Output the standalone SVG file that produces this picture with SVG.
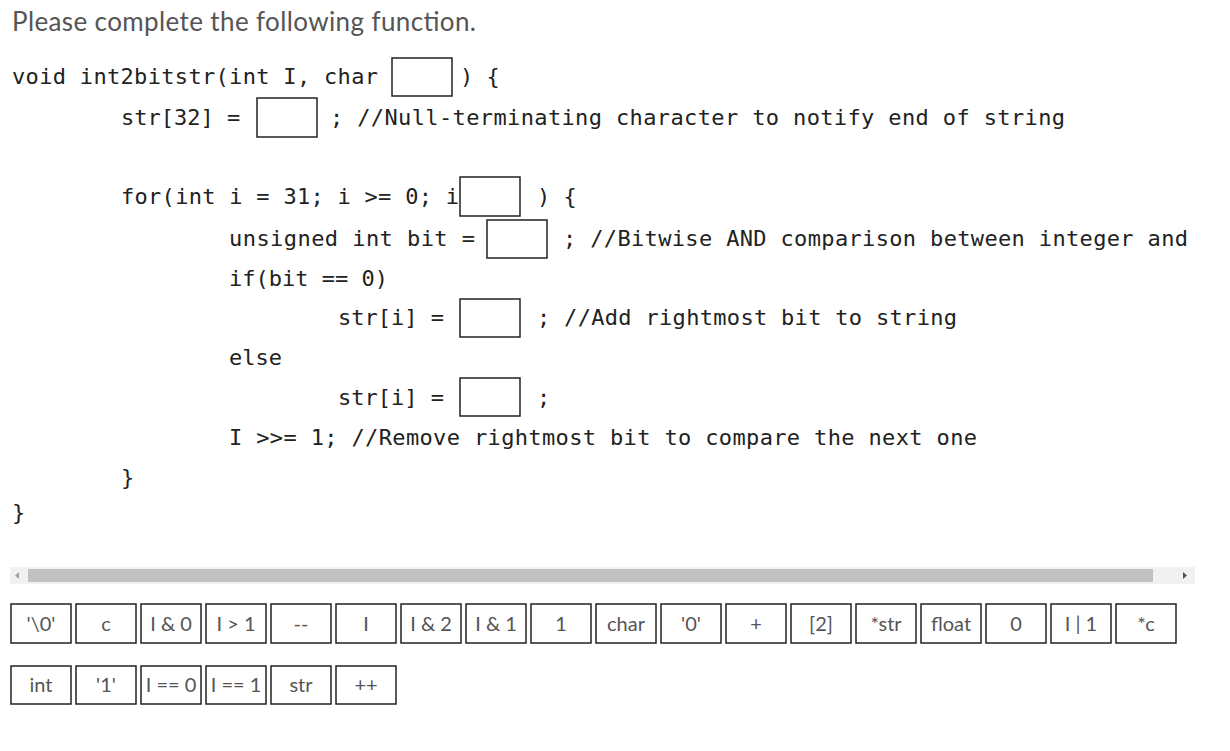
<svg xmlns="http://www.w3.org/2000/svg" width="1230" height="751" viewBox="0 0 1230 751">
<style>
.t{font-family:Lato,"Liberation Sans",sans-serif;font-size:26px;fill:#555}
.c{font-family:"DejaVu Sans Mono","Liberation Mono",monospace;font-size:22px;fill:#222;white-space:pre}
.b{fill:#fff;stroke:#222;stroke-width:1.5}
.tile rect{fill:#fff;stroke:#222;stroke-width:1.5}
.tile text{font-family:Lato,"Liberation Sans",sans-serif;font-size:20px;fill:#555;text-anchor:middle}
</style>
<rect width="1230" height="751" fill="#fff"/>
<text class="t" x="12" y="31" textLength="464">Please complete the following function.</text>
<g id="code">
<text class="c" x="12" y="84" textLength="366">void int2bitstr(int I, char</text>
<rect class="b" x="392" y="58" width="60" height="38"/>
<text class="c" x="460" y="84">) {</text>
<text class="c" x="121" y="125">str[32] =</text>
<rect class="b" x="257" y="98" width="60" height="39"/>
<text class="c" x="330" y="125" textLength="735">; //Null-terminating character to notify end of string</text>
<text class="c" x="121" y="204" textLength="338">for(int i = 31; i &gt;= 0; i</text>
<rect class="b" x="460" y="177" width="60" height="39"/>
<text class="c" x="537" y="204">) {</text>
<text class="c" x="229" y="246" textLength="246">unsigned int bit =</text>
<rect class="b" x="487" y="220" width="60" height="38"/>
<text class="c" x="563" y="246" textLength="625">; //Bitwise AND comparison between integer and</text>
<text class="c" x="229" y="286">if(bit == 0)</text>
<text class="c" x="338" y="325">str[i] =</text>
<rect class="b" x="460" y="299" width="60" height="38"/>
<text class="c" x="537" y="325" textLength="420">; //Add rightmost bit to string</text>
<text class="c" x="229" y="365">else</text>
<text class="c" x="338" y="405">str[i] =</text>
<rect class="b" x="460" y="378" width="60" height="38"/>
<text class="c" x="537" y="405">;</text>
<text class="c" x="229" y="445" textLength="748">I &gt;&gt;= 1; //Remove rightmost bit to compare the next one</text>
<text class="c" x="121" y="485">}</text>
<text class="c" x="12" y="520">}</text>
</g>
<g id="scrollbar">
<rect x="10" y="567" width="1185" height="17" fill="#f1f1f1"/>
<rect x="28" y="569" width="1125" height="13" fill="#c1c1c1"/>
<path d="M19 572 L15 575.5 L19 579 Z" fill="#a3a3a3"/>
<path d="M1183 572 L1187 575.5 L1183 579 Z" fill="#505050"/>
</g>
<g id="tiles">
<g class="tile" id="t1"><rect x="11" y="604" width="60" height="39"/><text x="41" y="631">'\0'</text></g>
<g class="tile" id="t2"><rect x="76" y="604" width="60" height="39"/><text x="106" y="631">c</text></g>
<g class="tile" id="t3"><rect x="141" y="604" width="60" height="39"/><text x="171" y="631">I &amp; 0</text></g>
<g class="tile" id="t4"><rect x="206" y="604" width="60" height="39"/><text x="236" y="631">I &gt; 1</text></g>
<g class="tile" id="t5"><rect x="271" y="604" width="60" height="39"/><text x="301" y="631">--</text></g>
<g class="tile" id="t6"><rect x="336" y="604" width="60" height="39"/><text x="366" y="631">I</text></g>
<g class="tile" id="t7"><rect x="401" y="604" width="60" height="39"/><text x="431" y="631">I &amp; 2</text></g>
<g class="tile" id="t8"><rect x="466" y="604" width="60" height="39"/><text x="496" y="631">I &amp; 1</text></g>
<g class="tile" id="t9"><rect x="531" y="604" width="60" height="39"/><text x="561" y="631">1</text></g>
<g class="tile" id="t10"><rect x="596" y="604" width="60" height="39"/><text x="626" y="631">char</text></g>
<g class="tile" id="t11"><rect x="661" y="604" width="60" height="39"/><text x="691" y="631">'0'</text></g>
<g class="tile" id="t12"><rect x="726" y="604" width="60" height="39"/><text x="756" y="631">+</text></g>
<g class="tile" id="t13"><rect x="791" y="604" width="60" height="39"/><text x="821" y="631">[2]</text></g>
<g class="tile" id="t14"><rect x="856" y="604" width="60" height="39"/><text x="886" y="631">*str</text></g>
<g class="tile" id="t15"><rect x="921" y="604" width="60" height="39"/><text x="951" y="631">float</text></g>
<g class="tile" id="t16"><rect x="986" y="604" width="60" height="39"/><text x="1016" y="631">0</text></g>
<g class="tile" id="t17"><rect x="1051" y="604" width="60" height="39"/><text x="1081" y="631">I | 1</text></g>
<g class="tile" id="t18"><rect x="1116" y="604" width="60" height="39"/><text x="1146" y="631">*c</text></g>
<g class="tile" id="t19"><rect x="11" y="666" width="60" height="38"/><text x="41" y="692">int</text></g>
<g class="tile" id="t20"><rect x="76" y="666" width="60" height="38"/><text x="106" y="692">'1'</text></g>
<g class="tile" id="t21"><rect x="141" y="666" width="60" height="38"/><text x="171" y="692">I == 0</text></g>
<g class="tile" id="t22"><rect x="206" y="666" width="60" height="38"/><text x="236" y="692">I == 1</text></g>
<g class="tile" id="t23"><rect x="271" y="666" width="60" height="38"/><text x="301" y="692">str</text></g>
<g class="tile" id="t24"><rect x="336" y="666" width="60" height="38"/><text x="366" y="692">++</text></g>
</g>
</svg>
